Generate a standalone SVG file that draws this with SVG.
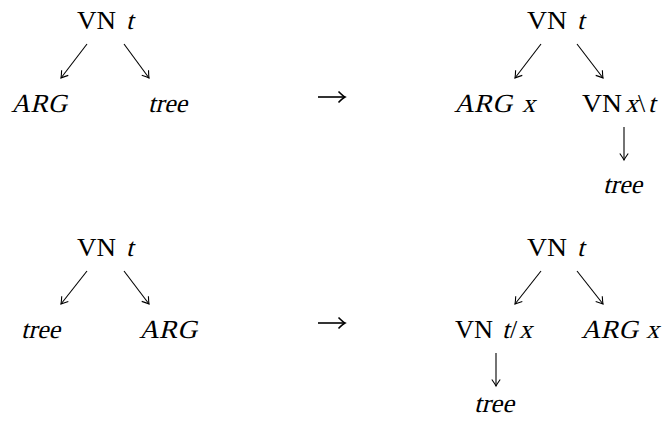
<svg xmlns="http://www.w3.org/2000/svg" width="664" height="427" viewBox="0 0 664 427">
<defs>
<style>
.rm{font-family:"Liberation Serif","Times New Roman",serif;font-size:26px;fill:#000}
.it{font-family:"Liberation Serif","Times New Roman",serif;font-size:26px;fill:#000}
.edge{stroke:#000;stroke-width:1.1;fill:none;marker-end:url(#ah)}
.big{stroke:#000;stroke-width:1.6;fill:none;marker-end:url(#ah2)}
</style>
<marker id="ah" markerUnits="userSpaceOnUse" orient="auto" markerWidth="12" markerHeight="12" viewBox="-8 -6 10 12" refX="0" refY="0">
<path d="M-6.5,-4.2 Q-2,-1 0,0 Q-2,1 -6.5,4.2" stroke="#000" stroke-width="1.1" fill="none"/>
</marker>
<marker id="ah2" markerUnits="userSpaceOnUse" orient="auto" markerWidth="14" markerHeight="14" viewBox="-9 -7 11 14" refX="0" refY="0">
<path d="M-6.5,-5.5 Q-2,-1 0,0 Q-2,1 -6.5,5.5" stroke="#000" stroke-width="1.6" fill="none"/>
</marker>
</defs>
<rect width="664" height="427" fill="#fff"/>

<g id="connectors">
<line class="edge" x1="87" y1="44" x2="61" y2="78"/>
<line class="edge" x1="124" y1="44" x2="149" y2="78"/>
<line class="edge" x1="541" y1="44" x2="515" y2="78"/>
<line class="edge" x1="577" y1="44" x2="603" y2="78"/>
<line class="edge" x1="624" y1="127" x2="624" y2="160"/>
<line class="edge" x1="87" y1="271" x2="61" y2="304"/>
<line class="edge" x1="124" y1="271" x2="149" y2="304"/>
<line class="edge" x1="541" y1="271" x2="515" y2="304"/>
<line class="edge" x1="577" y1="271" x2="603" y2="304"/>
<line class="edge" x1="496" y1="353" x2="496" y2="386"/>
<line class="big" x1="318" y1="97" x2="345" y2="97"/>
<line class="big" x1="318" y1="323" x2="345" y2="323"/>
</g>

<g id="n1-root"><text class="rm" x="77" y="29" textLength="39" lengthAdjust="spacingAndGlyphs">VN</text><text class="it" transform="translate(126,29) skewX(-14)">t</text></g>
<g id="n1-arg"><text class="it" transform="translate(11,112) skewX(-14)" textLength="56" lengthAdjust="spacingAndGlyphs">ARG</text></g>
<g id="n1-tree"><text class="it" transform="translate(148,112) skewX(-14)" textLength="39" lengthAdjust="spacingAndGlyphs">tree</text></g>

<g id="n2-root"><text class="rm" x="527" y="29" textLength="40" lengthAdjust="spacingAndGlyphs">VN</text><text class="it" transform="translate(577,29) skewX(-14)">t</text></g>
<g id="n2-arg"><text class="it" transform="translate(454,112) skewX(-14)" textLength="58" lengthAdjust="spacingAndGlyphs">ARG</text><text class="it" transform="translate(522,112) skewX(-14)">x</text></g>
<g id="n2-vn"><text class="rm" x="582" y="112" textLength="40" lengthAdjust="spacingAndGlyphs">VN</text><text class="it" transform="translate(625,112) skewX(-14)">x</text><text class="rm" x="638" y="112">\</text><text class="it" transform="translate(648,112) skewX(-14)">t</text></g>
<g id="n2-tree"><text class="it" transform="translate(603,193) skewX(-14)" textLength="39" lengthAdjust="spacingAndGlyphs">tree</text></g>

<g id="n3-root"><text class="rm" x="77" y="256" textLength="39" lengthAdjust="spacingAndGlyphs">VN</text><text class="it" transform="translate(126,256) skewX(-14)">t</text></g>
<g id="n3-tree"><text class="it" transform="translate(21,338) skewX(-14)" textLength="39" lengthAdjust="spacingAndGlyphs">tree</text></g>
<g id="n3-arg"><text class="it" transform="translate(139,338) skewX(-14)" textLength="58" lengthAdjust="spacingAndGlyphs">ARG</text></g>

<g id="n4-root"><text class="rm" x="527" y="256" textLength="40" lengthAdjust="spacingAndGlyphs">VN</text><text class="it" transform="translate(577,256) skewX(-14)">t</text></g>
<g id="n4-vn"><text class="rm" x="455" y="338" textLength="38" lengthAdjust="spacingAndGlyphs">VN</text><text class="it" transform="translate(502,338) skewX(-14)">t</text><text class="rm" x="510" y="338">/</text><text class="it" transform="translate(519,338) skewX(-14)">x</text></g>
<g id="n4-arg"><text class="it" transform="translate(581,338) skewX(-14)" textLength="57" lengthAdjust="spacingAndGlyphs">ARG</text><text class="it" transform="translate(646,338) skewX(-14)">x</text></g>
<g id="n4-tree"><text class="it" transform="translate(474,412) skewX(-14)" textLength="40" lengthAdjust="spacingAndGlyphs">tree</text></g>
</svg>
